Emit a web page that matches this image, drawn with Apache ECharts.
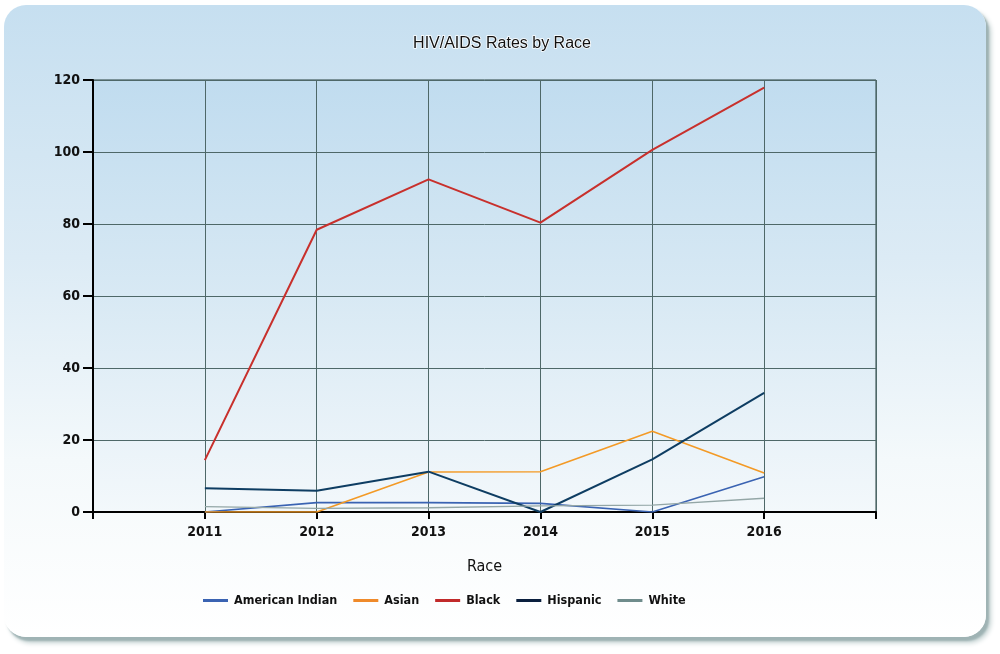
<!DOCTYPE html>
<html>
<head>
<meta charset="utf-8">
<title>HIV/AIDS Rates by Race</title>
<script src="https://cdn.jsdelivr.net/npm/echarts@6/dist/echarts.min.js"></script>
<style>
  html, body { margin: 0; padding: 0; background: #ffffff; }
  #panel {
    position: absolute; left: 4px; top: 5px; width: 982px; height: 632px;
    border-radius: 22px;
    background: linear-gradient(to bottom, #c6dff0 0%, #dcebf5 40%, #f4f9fb 72%, #ffffff 100%);
    box-shadow: 3px 4px 2px #9fb3b4, 5px 6px 5px #c4d2d2;
  }
  #chart { position: absolute; left: 0; top: 0; width: 1000px; height: 654px; }
</style>
</head>
<body>
<div id="panel"></div>
<div id="chart"></div>
<script>
  // 年份（类目）
  var years = [2011, 2012, 2013, 2014, 2015, 2016];
  var yTicks = [0, 20, 40, 60, 80, 100, 120];

  // 各族裔数据
  var americanIndian = [0.0, 2.6, 2.6, 2.4, 0.0, 9.8];
  var asian = [0.0, 0.0, 11.1, 11.2, 22.4, 10.8];
  var black = [14.4, 78.4, 92.4, 80.4, 100.6, 117.9];
  var hispanic = [6.6, 5.9, 11.2, 0.0, 14.6, 33.1];
  var white = [1.5, 1.0, 1.2, 1.7, 1.9, 3.8];

  var seriesNames = ['American Indian', 'Asian', 'Black', 'Hispanic', 'White'];
  var seriesData = [americanIndian, asian, black, hispanic, white];
  var seriesColors = ['#3a63b2', '#f39a26', '#c8302c', '#0e3d62', '#93a6a6'];
  var legendColors = ['#3a63b2', '#ef8a2a', '#c12a2a', '#0a1f3e', '#6f8c8c'];
  var lineWidths = [1.6, 1.6, 2, 2, 1.4];

  var series = [];
  for (var i = 0; i < seriesNames.length; i++) {
    var pts = [];
    for (var j = 0; j < years.length; j++) {
      pts.push([years[j], seriesData[i][j]]);
    }
    series.push({
      name: seriesNames[i],
      type: 'line',
      data: pts,
      symbol: 'none',
      color: legendColors[i],
      lineStyle: { color: seriesColors[i], width: lineWidths[i] },
      z: i === 2 ? 5 : 3
    });
  }

  var myChart = echarts.init(document.getElementById('chart'));
  var option = {
    backgroundColor: 'transparent',
    animation: false,
    title: {
      text: 'HIV/AIDS Rates by Race',
      left: 497,
      textAlign: 'center',
      top: 31,
      textStyle: {
        fontFamily: 'Liberation Sans',
        fontSize: 16,
        fontWeight: 'normal',
        color: '#111111',
        textBorderColor: '#ffffff',
        textBorderWidth: 1.5
      }
    },
    legend: {
      data: seriesNames,
      left: 198,
      top: 589,
      itemWidth: 25,
      itemHeight: 3,
      itemGap: 16,
      icon: 'path://M0,0 L25,0 L25,3 L0,3 Z',
      itemStyle: { borderWidth: 0 },
      textStyle: {
        fontFamily: 'DejaVu Sans Condensed',
        fontSize: 12.5,
        fontWeight: 'bold',
        color: '#111111',
        padding: [0, 0, 0, 1]
      }
    },
    grid: {
      left: 93,
      right: 124,
      top: 80,
      bottom: 142,
      show: true,
      borderColor: '#26403f',
      borderWidth: 1,
      backgroundColor: new echarts.graphic.LinearGradient(0, 0, 0, 1, [
        { offset: 0, color: '#c0dcef' },
        { offset: 0.5, color: '#d8e9f4' },
        { offset: 1, color: '#f3f8fb' }
      ])
    },
    xAxis: {
      type: 'value',
      min: 2010,
      max: 2017,
      interval: 1,
      name: 'Race',
      nameLocation: 'middle',
      nameGap: 47,
      nameTextStyle: {
        fontFamily: 'DejaVu Sans Condensed',
        fontSize: 16,
        color: '#111111'
      },
      axisLine: { show: true, lineStyle: { color: '#000000', width: 2 } },
      axisTick: { show: true, length: 7, lineStyle: { color: '#000000', width: 2 } },
      axisLabel: {
        margin: 13,
        fontFamily: 'DejaVu Sans Condensed',
        fontSize: 14,
        fontWeight: 'bold',
        color: '#111111',
        formatter: function (v) {
          return years.indexOf(v) >= 0 ? String(v) : '';
        }
      },
      splitLine: { show: true, lineStyle: { color: '#4e6868', width: 1 } }
    },
    yAxis: {
      type: 'value',
      min: yTicks[0],
      max: yTicks[yTicks.length - 1],
      interval: 20,
      axisLine: { show: true, lineStyle: { color: '#000000', width: 2 } },
      axisTick: { show: true, length: 10, lineStyle: { color: '#000000', width: 2 } },
      axisLabel: {
        margin: 13,
        fontFamily: 'DejaVu Sans Condensed',
        fontSize: 14,
        fontWeight: 'bold',
        color: '#111111'
      },
      splitLine: { show: true, lineStyle: { color: '#4e6868', width: 1 } }
    },
    series: series
  };

  if (option && typeof option == "object") {
    myChart.setOption(option, true);
  }
</script>
</body>
</html>
